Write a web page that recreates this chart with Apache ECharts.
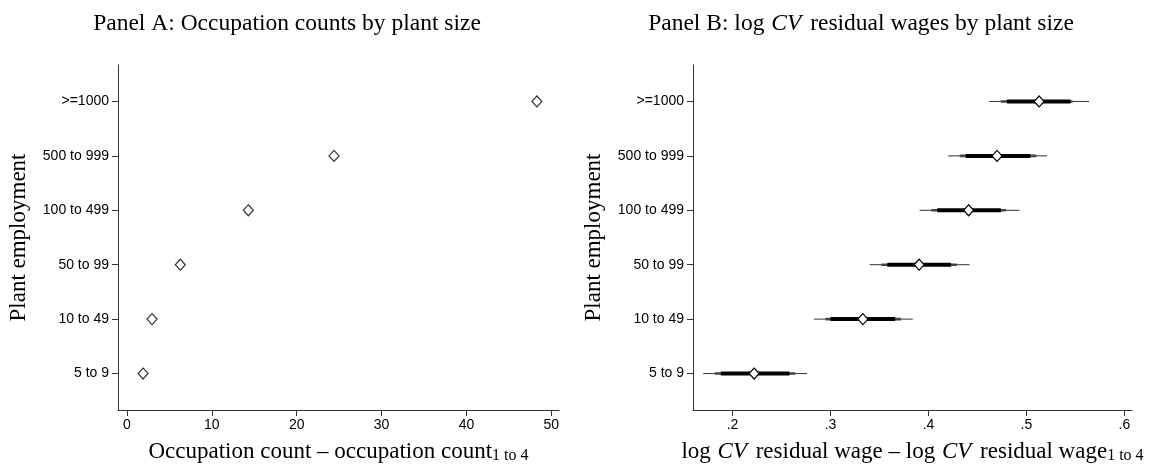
<!DOCTYPE html>
<html>
<head>
<meta charset="utf-8">
<script src="https://cdn.jsdelivr.net/npm/echarts@6/dist/echarts.min.js"></script>
<style>
html,body{margin:0;padding:0;background:#fff;}
#chart{width:1158px;height:469px;}
</style>
</head>
<body>
<div id="chart"></div>
<script>
// ---- data ----
const categories = ["5 to 9", "10 to 49", "50 to 99", "100 to 499", "500 to 999", ">=1000"];
const occupationCount = [1.9, 2.96, 6.29, 14.3, 24.4, 48.3];
const cvPoint = [0.222, 0.333, 0.3905, 0.441, 0.470, 0.513];
const cvThinLow  = [0.170, 0.283, 0.340, 0.391, 0.420, 0.462];
const cvThinHigh = [0.276, 0.384, 0.442, 0.493, 0.521, 0.564];
const cvMedLow   = [0.182, 0.295, 0.352, 0.403, 0.432, 0.474];
const cvMedHigh  = [0.264, 0.372, 0.429, 0.479, 0.510, 0.547];
const cvThickLow = [0.188, 0.300, 0.358, 0.409, 0.438, 0.480];
const cvThickHigh= [0.258, 0.366, 0.423, 0.474, 0.504, 0.545];
const xTicksA = [0, 10, 20, 30, 40, 50];
const xTicksB = [0.2, 0.3, 0.4, 0.5, 0.6];
const yTicks = [1, 2, 3, 4, 5, 6];

const SERIF = "Liberation Serif, Times New Roman, serif";
const SANS = "Liberation Sans, Arial, Helvetica, sans-serif";
const AX = '#333';

const chart = echarts.init(document.getElementById('chart'), null, {renderer: 'canvas'});

function yAxis(gridIndex) {
  return {
    type: 'value', gridIndex: gridIndex, min: 0.33, max: 6.67,
    name: 'Plant employment', nameLocation: 'middle', nameRotate: 90, nameGap: 88,
    nameTextStyle: {fontFamily: SERIF, fontSize: 23, color: '#000'},
    axisLine: {show: true, onZero: false, lineStyle: {color: AX, width: 1}},
    axisTick: {show: true, length: 6, lineStyle: {color: AX}, customValues: yTicks},
    axisLabel: {show: true, margin: 9, fontFamily: SANS, fontSize: 14, color: '#000',
      customValues: yTicks, formatter: v => categories[Math.round(v) - 1]},
    splitLine: {show: false}
  };
}

const sub = {fontFamily: SERIF, fontSize: 16, color: '#000', padding: [9, 0, 0, 0]};
const norm = {fontFamily: SERIF, fontSize: 23, color: '#000'};
const ital = {fontFamily: SERIF, fontSize: 23, color: '#000', fontStyle: 'italic', padding: [0, 3, 0, 1]};
const italT = {fontFamily: SERIF, fontSize: 23.5, color: '#000', fontStyle: 'italic', padding: [0, 3, 0, 1]};

const option = {
  backgroundColor: '#fff',
  animation: false,
  title: [
    {text: 'Panel A: Occupation counts by plant size', left: 282, top: 7, textAlign: 'center',
     textStyle: {fontFamily: SERIF, fontSize: 23.5, fontWeight: 'normal', color: '#000'}},
    {text: 'Panel B: log {i|CV} residual wages by plant size', left: 856, top: 7, textAlign: 'center',
     textStyle: {fontFamily: SERIF, fontSize: 23.5, fontWeight: 'normal', color: '#000', rich: {i: italT}}}
  ],
  grid: [
    {left: 118, top: 65, width: 441, height: 349},
    {left: 693, top: 65, width: 439, height: 349}
  ],
  xAxis: [
    {type: 'value', gridIndex: 0, min: -1.05, max: 50.9,
     name: 'Occupation count – occupation count{s|1 to 4}', nameLocation: 'middle', nameGap: 29,
     nameTextStyle: {fontFamily: SERIF, fontSize: 23, color: '#000', rich: {s: sub, n: norm}},
     axisLine: {show: true, onZero: false, lineStyle: {color: AX, width: 1}},
     axisTick: {show: true, length: 6, lineStyle: {color: AX}, customValues: xTicksA},
     axisLabel: {show: true, margin: 8, fontFamily: SANS, fontSize: 14, color: '#000', customValues: xTicksA},
     splitLine: {show: false}},
    {type: 'value', gridIndex: 1, min: 0.1596, max: 0.6078,
     name: 'log {i|CV} residual wage – log {i|CV} residual wage{s|1 to 4}', nameLocation: 'middle', nameGap: 29,
     nameTextStyle: {fontFamily: SERIF, fontSize: 23, color: '#000', rich: {s: sub, i: ital, n: norm}},
     axisLine: {show: true, onZero: false, lineStyle: {color: AX, width: 1}},
     axisTick: {show: true, length: 6, lineStyle: {color: AX}, customValues: xTicksB},
     axisLabel: {show: true, margin: 8, fontFamily: SANS, fontSize: 14, color: '#000', customValues: xTicksB,
       formatter: v => v.toFixed(1).replace(/^0/, '')},
     splitLine: {show: false}}
  ],
  yAxis: [yAxis(0), yAxis(1)],
  series: [
    {type: 'scatter', xAxisIndex: 0, yAxisIndex: 0, symbol: 'diamond', symbolSize: [10, 11],
     itemStyle: {color: '#fff', borderColor: '#000', borderWidth: 1.2},
     emphasis: {disabled: true},
     data: occupationCount.map((v, i) => [v, i + 1]), z: 5},
    {type: 'custom', xAxisIndex: 1, yAxisIndex: 1, z: 3,
     data: categories.map((c, i) => [cvThinLow[i], cvThinHigh[i], cvMedLow[i], cvMedHigh[i], cvThickLow[i], cvThickHigh[i], i + 1]),
     encode: {x: [0, 1], y: 6},
     renderItem: function (params, api) {
       const y = api.value(6);
       const seg = (a, b, w, c) => {
         const p1 = api.coord([api.value(a), y]);
         const p2 = api.coord([api.value(b), y]);
         return {type: 'line', shape: {x1: p1[0], y1: p1[1], x2: p2[0], y2: p2[1]},
                 style: {stroke: c, lineWidth: w}};
       };
       return {type: 'group', children: [
         seg(0, 1, 1, '#333'),
         seg(2, 3, 2.6, '#444'),
         seg(4, 5, 4, '#000')
       ]};
     }},
    {type: 'scatter', xAxisIndex: 1, yAxisIndex: 1, symbol: 'diamond', symbolSize: [10, 11],
     itemStyle: {color: '#fff', borderColor: '#000', borderWidth: 1.2, opacity: 1},
     emphasis: {disabled: true},
     data: cvPoint.map((v, i) => [v, i + 1]), z: 6}
  ]
};
chart.setOption(option);
</script>
</body>
</html>
